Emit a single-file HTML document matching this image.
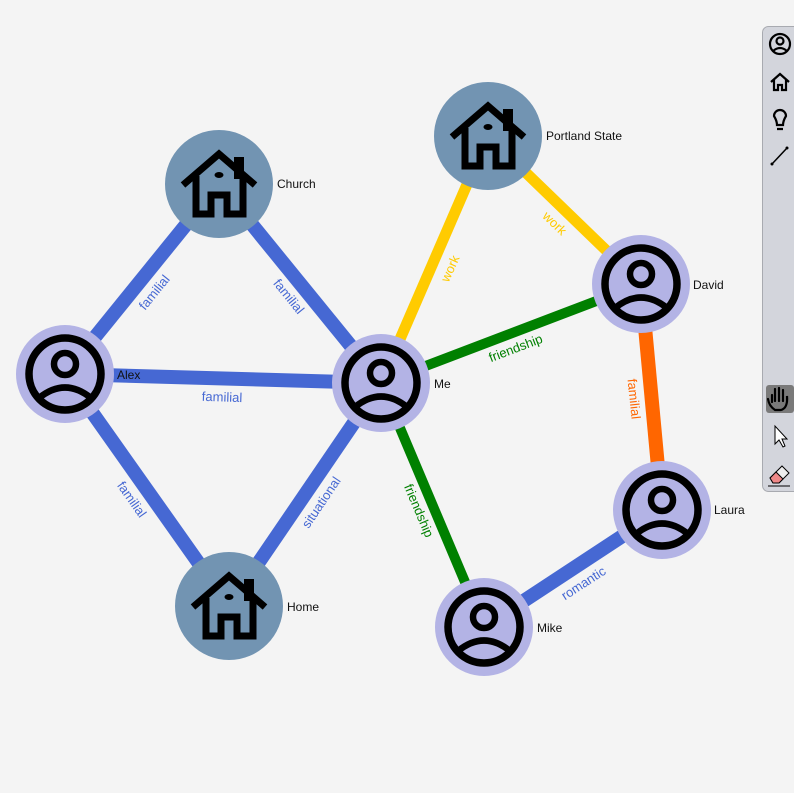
<!DOCTYPE html>
<html><head><meta charset="utf-8"><style>
html,body{margin:0;padding:0;background:#f4f4f4;width:794px;height:793px;overflow:hidden}
svg{position:absolute;left:0;top:0}
text{font-family:"Liberation Sans",sans-serif}
</style></head><body>
<svg width="794" height="793" viewBox="0 0 794 793">
<defs>
<g id="person">
<circle r="49" fill="#b3b3e5"/>
<circle r="36" fill="none" stroke="#000" stroke-width="7.5"/>
<circle cx="0" cy="-10" r="11" fill="none" stroke="#000" stroke-width="6.5"/>
<path d="M-26,24 Q0,3 26,24" fill="none" stroke="#000" stroke-width="6.5"/>
</g>
<g id="house">
<circle r="54" fill="#7294b2"/>
<path d="M-36,1 L0,-30 L36,1" fill="none" stroke="#000" stroke-width="7" stroke-linejoin="miter"/>
<path d="M-23,-8 V30 H-8 V11 H8 V30 H24 V-8" fill="none" stroke="#000" stroke-width="7"/>
<rect x="15" y="-27" width="10" height="22" fill="#000"/>
<ellipse cx="0" cy="-9" rx="4.5" ry="3" fill="#000"/>
</g>
</defs>
<g stroke-linecap="butt">
<line x1="219" y1="184" x2="65" y2="374" stroke="#4668d3" stroke-width="14"/>
<line x1="219" y1="184" x2="381" y2="383" stroke="#4668d3" stroke-width="14"/>
<line x1="65" y1="374" x2="381" y2="383" stroke="#4668d3" stroke-width="14"/>
<line x1="65" y1="374" x2="229" y2="606" stroke="#4668d3" stroke-width="14"/>
<line x1="229" y1="606" x2="381" y2="383" stroke="#4668d3" stroke-width="14"/>
<line x1="381" y1="383" x2="488" y2="136" stroke="#ffcb00" stroke-width="11"/>
<line x1="488" y1="136" x2="641" y2="284" stroke="#ffcb00" stroke-width="11"/>
<line x1="381" y1="383" x2="641" y2="284" stroke="#008000" stroke-width="10"/>
<line x1="641" y1="284" x2="662" y2="510" stroke="#ff6600" stroke-width="14"/>
<line x1="381" y1="383" x2="484" y2="627" stroke="#008000" stroke-width="10"/>
<line x1="662" y1="510" x2="484" y2="627" stroke="#4668d3" stroke-width="14"/>
</g>
<g font-size="13" text-anchor="middle" dominant-baseline="middle">
<text transform="translate(155,293) rotate(-51)" fill="#4668d3">familial</text>
<text transform="translate(288,297) rotate(51)" fill="#4668d3">familial</text>
<text transform="translate(222,398) rotate(2)" fill="#4668d3">familial</text>
<text transform="translate(131,500) rotate(55)" fill="#4668d3">familial</text>
<text transform="translate(322,503) rotate(-56)" fill="#4668d3">situational</text>
<text transform="translate(451,269) rotate(-66)" fill="#ffcb00">work</text>
<text transform="translate(554,224) rotate(44)" fill="#ffcb00">work</text>
<text transform="translate(516,349) rotate(-21)" fill="#008000">friendship</text>
<text transform="translate(633,399) rotate(84)" fill="#ff6600">familial</text>
<text transform="translate(418,511) rotate(67)" fill="#008000">friendship</text>
<text transform="translate(584,584) rotate(-33)" fill="#4668d3">romantic</text>
</g>
<use href="#house" x="219" y="184"/>
<use href="#house" x="488" y="136"/>
<use href="#house" x="229" y="606"/>
<use href="#person" x="381" y="383"/>
<use href="#person" x="641" y="284"/>
<use href="#person" x="65" y="374"/>
<use href="#person" x="662" y="510"/>
<use href="#person" x="484" y="627"/>
<g font-size="12" fill="#111">
<text x="277" y="188">Church</text>
<text x="546" y="140">Portland State</text>
<text x="693" y="289">David</text>
<text x="117" y="379">Alex</text>
<text x="434" y="388">Me</text>
<text x="714" y="514">Laura</text>
<text x="537" y="632">Mike</text>
<text x="287" y="611">Home</text>
</g>
<rect x="762.5" y="26.5" width="40" height="465" rx="6" fill="#d3d5dc" stroke="#a8aab0"/>
<g fill="none" stroke="#000" stroke-width="2.2">
<circle cx="780" cy="44" r="10"/>
<circle cx="780" cy="41" r="3.5"/>
<path d="M773,51 Q780,45 787,51"/>
<path d="M771,82 L780,74 L789,82 M774,80 V90 H778 V85 H782 V90 H786 V80"/>
<path d="M774,116 A6,6 0 1 1 786,116 Q783,121 783,125 H777 Q777,121 774,116 Z M777,129 H783"/>
<line x1="772" y1="164" x2="787" y2="148" stroke-width="1.5"/>
</g>
<circle cx="772" cy="164" r="1.5"/><circle cx="787" cy="148" r="1.5"/>
<rect x="766" y="385" width="28" height="28" rx="3" fill="#7a7a7a"/>
<path d="M772,402 V395 M775,401 V389 M779,401 V388 M783,401 V390 M787,402 V396 Q788,408 781,410 H775 Q769,406 768,399" fill="none" stroke="#000" stroke-width="2.2" stroke-linecap="round"/>
<path d="M775,426 V444 L779,440 L783,447 L785,446 L782,439 L787,439 Z" fill="#fff" stroke="#000" stroke-width="1"/>
<path d="M770,478 L782,466 L789,473 L779,483 H773 Z" fill="#eee" stroke="#000" stroke-width="1"/>
<path d="M770,478 L776,472 L783,479 L779,483 H773 Z" fill="#e88" stroke="#000" stroke-width="1"/>
<line x1="768" y1="486" x2="790" y2="486" stroke="#000" stroke-width="1"/>
</svg>
</body></html>
